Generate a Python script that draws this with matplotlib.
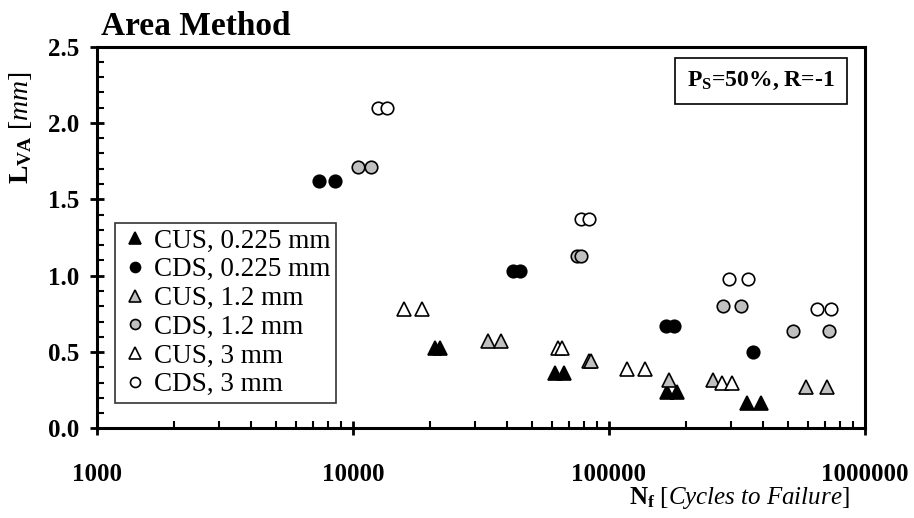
import numpy as np
import matplotlib
matplotlib.use('Agg')
import matplotlib.pyplot as plt
from matplotlib.ticker import FixedLocator, NullFormatter, MultipleLocator, FormatStrFormatter

plt.rcParams['font.family'] = ['Liberation Serif', 'DejaVu Serif']
plt.rcParams['mathtext.fontset'] = 'custom'
plt.rcParams['mathtext.rm'] = 'Liberation Serif'
plt.rcParams['mathtext.bf'] = 'Liberation Serif:bold'
plt.rcParams['mathtext.it'] = 'Liberation Serif:italic'

# ---- data ----
cus_0225_n = [20900, 21900, 61500, 66700, 168800, 184500, 346000, 392000]
cus_0225_l = [0.53, 0.53, 0.36, 0.36, 0.24, 0.24, 0.17, 0.17]

cds_0225_n = [7370, 8510, 42200, 44900, 167000, 179600, 365000]
cds_0225_l = [1.62, 1.62, 1.03, 1.03, 0.67, 0.67, 0.50]

cus_12_n = [33650, 37840, 83500, 85100, 171400, 254700, 589000, 711000]
cus_12_l = [0.57, 0.57, 0.44, 0.44, 0.32, 0.32, 0.27, 0.27]

cds_12_n = [10460, 11750, 75000, 77800, 278700, 328000, 523000, 722000]
cds_12_l = [1.71, 1.71, 1.13, 1.13, 0.80, 0.80, 0.64, 0.64]

cus_3_n = [15810, 18620, 63200, 65400, 117500, 138200, 276000, 302000]
cus_3_l = [0.78, 0.78, 0.53, 0.53, 0.39, 0.39, 0.30, 0.30]

cds_3_n = [12540, 13590, 77800, 83500, 294000, 349000, 649400, 736000]
cds_3_l = [2.10, 2.10, 1.37, 1.37, 0.98, 0.98, 0.78, 0.78]

x_ticks = [1000, 10000, 100000, 1000000]
x_tick_labels = ['1000', '10000', '100000', '1000000']

GRAY = '#c0c0c0'

series = [
    (cus_0225_n, cus_0225_l, '^', 'black', 'CUS, 0.225 mm'),
    (cds_0225_n, cds_0225_l, 'o', 'black', 'CDS, 0.225 mm'),
    (cus_12_n, cus_12_l, '^', GRAY, 'CUS, 1.2 mm'),
    (cds_12_n, cds_12_l, 'o', GRAY, 'CDS, 1.2 mm'),
    (cus_3_n, cus_3_l, '^', 'white', 'CUS, 3 mm'),
    (cds_3_n, cds_3_l, 'o', 'white', 'CDS, 3 mm'),
]

fig = plt.figure(figsize=(9.14, 5.18), dpi=100)
ax = fig.add_axes([0.1061, 0.1728, 0.8403, 0.7374])

for n, l, mk, fc, lab in series:
    ms = 10.5 if mk == '^' else 9
    ax.plot(n, l, linestyle='none', marker=mk, markersize=ms,
            markerfacecolor=fc, markeredgecolor='black',
            markeredgewidth=1.2, label=lab)

ax.set_xscale('log')
ax.set_xlim(1000, 1000000)
ax.set_ylim(0, 2.5)

ax.xaxis.set_major_locator(FixedLocator(x_ticks))
ax.set_xticklabels(x_tick_labels)
minor_x = [m * 10 ** d for d in range(3, 6) for m in range(2, 10)]
ax.xaxis.set_minor_locator(FixedLocator(minor_x))
ax.xaxis.set_minor_formatter(NullFormatter())
ax.yaxis.set_major_locator(MultipleLocator(0.5))
ax.yaxis.set_minor_locator(MultipleLocator(0.1))
ax.yaxis.set_major_formatter(FormatStrFormatter('%.1f'))

for sp in ax.spines.values():
    sp.set_linewidth(2.2)

ax.tick_params(axis='both', which='major', direction='inout', length=10,
               width=2.0, labelsize=18)
ax.tick_params(axis='both', which='minor', direction='in', length=5,
               width=1.5)
ax.tick_params(axis='x', which='major', pad=20)
ax.tick_params(axis='y', which='major', pad=8)
for t in ax.get_xticklabels() + ax.get_yticklabels():
    t.set_fontweight('bold')

# titles and axis labels
fig.text(101 / 914, 1 - 35 / 518, 'Area Method', fontsize=24,
         fontweight='bold', ha='left', va='baseline')
fig.text(20 / 914, 1 - 128 / 518,
         r'$\mathbf{L}_{\mathbf{VA}}\ \mathit{[mm]}$', fontsize=20,
         rotation=90, ha='center', va='center')
fig.text(850 / 914, 1 - 498 / 518,
         r'$\mathbf{N}_{\mathbf{f}}\ \mathit{[Cycles\ to\ Failure]}$',
         fontsize=18, ha='right', va='center')

ax.text((835 - 97) / 768, (428.5 - 81) / 382, r'$\mathbf{P}_{\mathbf{S}}$=50%, R=-1',
        transform=ax.transAxes, fontsize=17, fontweight='bold',
        ha='right', va='center',
        bbox=dict(boxstyle='square,pad=0.5', facecolor='white',
                  edgecolor='black', linewidth=1.2))

leg = ax.legend(loc='upper left', bbox_to_anchor=(115 / 914, 1 - 223 / 518),
                bbox_transform=fig.transFigure, fontsize=19.5,
                frameon=True, fancybox=False, edgecolor='black',
                handlelength=1.1, handletextpad=0.15, labelspacing=0.14,
                borderpad=0.2, borderaxespad=0, markerscale=0.8)
leg.get_frame().set_linewidth(1.2)

fig.savefig('out.png', dpi=100)
